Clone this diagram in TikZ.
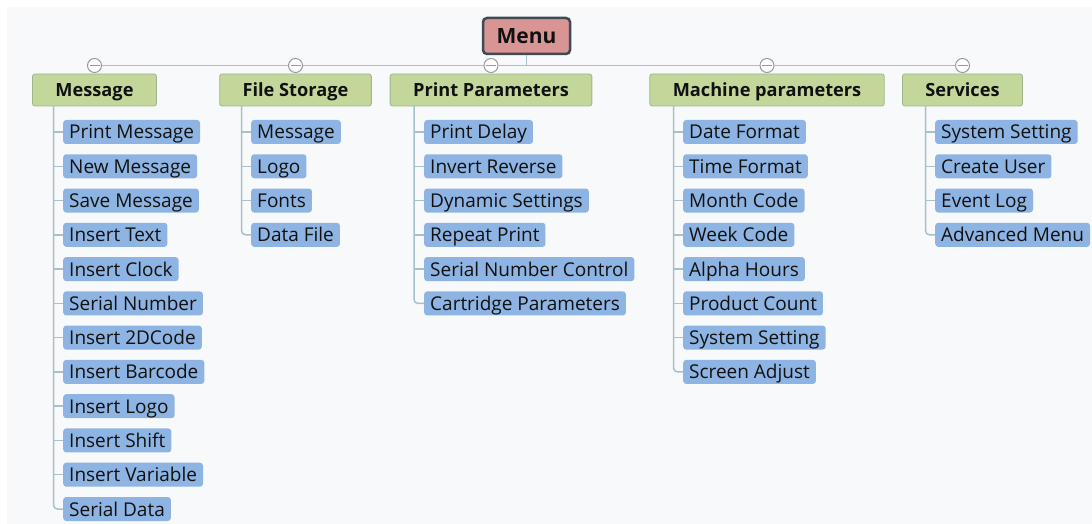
\documentclass[tikz,border=0pt]{standalone}
\usepackage{fontspec}
\setmainfont{Open Sans}
\usepackage{tikz}

\definecolor{bgcol}{HTML}{F8F9FA}
\definecolor{menufill}{HTML}{D99594}
\definecolor{menuedge}{HTML}{3F4A54}
\definecolor{topicfill}{HTML}{C4D79B}
\definecolor{topicedge}{HTML}{9FB58A}
\definecolor{itemfill}{HTML}{8DB4E2}
\definecolor{linkcol}{HTML}{A6C0CC}
\definecolor{foldedge}{HTML}{9A9A9A}
\definecolor{textcol}{HTML}{111111}

\tikzset{
    menubox/.style={draw=menuedge, line width=2.5pt, fill=menufill,
        rounded corners=4pt, minimum width=87pt, minimum height=36pt,
        inner sep=0pt, text height=15pt, text depth=0pt, text=textcol,
        font=\bfseries\fontsize{21pt}{21pt}\selectfont},
    topic/.style={draw=topicedge, line width=0.8pt, fill=topicfill,
        rounded corners=2.5pt, minimum height=32pt, inner xsep=23pt,
        inner ysep=0pt, text height=13.5pt, text depth=0pt, text=textcol,
        font=\bfseries\fontsize{18.2pt}{18.2pt}\selectfont},
    leaf/.style={fill=itemfill, rounded corners=3pt, minimum height=24pt,
        inner xsep=6pt, inner ysep=0pt, text height=14pt, text depth=0pt,
        anchor=west, text=textcol, font=\fontsize{19pt}{19pt}\selectfont},
    fold/.style={circle, draw=foldedge, line width=1pt, fill=white,
        minimum size=14pt, inner sep=0pt,
        path picture={\draw[foldedge, line width=1pt]
            ([xshift=-5pt]path picture bounding box.center) --
            ([xshift=5pt]path picture bounding box.center);}},
    link/.style={draw=linkcol, line width=1.5pt}
}

\begin{document}
\begin{tikzpicture}[x=1pt, y=-1pt]
    \useasboundingbox (0,0) rectangle (1092,524);
    \fill[bgcol] (7,7) rectangle (1092,524);

    % root
    \node[menubox] (menu) at (526.5,36) {Menu};

    % main topics
    \node[topic] (msg) at (94.5,90) {Message};
    \node[topic] (file) at (295.5,90) {File Storage};
    \node[topic] (prn) at (491,90) {Print Parameters};
    \node[topic] (mach) at (767,90) {Machine parameters};
    \node[topic] (srv) at (962.5,90) {Services};

    % bus with fold markers
    \node[fold] (fmsg) at (94.5,65.5) {};
    \node[fold] (ffile) at (295.5,65.5) {};
    \node[fold] (fprn) at (491,65.5) {};
    \node[fold] (fmach) at (767,65.5) {};
    \node[fold] (fsrv) at (962.5,65.5) {};
    \draw[link] (fmsg.east) -- (ffile.west);
    \draw[link] (ffile.east) -- (fprn.west);
    \draw[link] (fprn.east) -- (fmach.west);
    \draw[link] (fmach.east) -- (fsrv.west);
    \draw[link] (menu.south) -- (menu.south |- fprn.center);

    % Message
    \node[leaf] (m1) at (63,132) {Print Message};
    \node[leaf] (m2) at (63,166.3) {New Message};
    \node[leaf] (m3) at (63,200.5) {Save Message};
    \node[leaf] (m4) at (63,234.8) {Insert Text};
    \node[leaf] (m5) at (63,269.1) {Insert Clock};
    \node[leaf] (m6) at (63,303.4) {Serial Number};
    \node[leaf] (m7) at (63,337.6) {Insert 2DCode};
    \node[leaf] (m8) at (63,371.9) {Insert Barcode};
    \node[leaf] (m9) at (63,406.2) {Insert Logo};
    \node[leaf] (m10) at (63,440.4) {Insert Shift};
    \node[leaf] (m11) at (63,474.7) {Insert Variable};
    \node[leaf] (m12) at (63,509) {Serial Data};

    % File Storage
    \node[leaf] (f1) at (251,132) {Message};
    \node[leaf] (f2) at (251,166.3) {Logo};
    \node[leaf] (f3) at (251,200.5) {Fonts};
    \node[leaf] (f4) at (251,234.8) {Data File};

    % Print Parameters
    \node[leaf] (p1) at (424,132) {Print Delay};
    \node[leaf] (p2) at (424,166.3) {Invert Reverse};
    \node[leaf] (p3) at (424,200.5) {Dynamic Settings};
    \node[leaf] (p4) at (424,234.8) {Repeat Print};
    \node[leaf] (p5) at (424,269.1) {Serial Number Control};
    \node[leaf] (p6) at (424,303.4) {Cartridge Parameters};

    % Machine parameters
    \node[leaf] (mc1) at (683,132) {Date Format};
    \node[leaf] (mc2) at (683,166.3) {Time Format};
    \node[leaf] (mc3) at (683,200.5) {Month Code};
    \node[leaf] (mc4) at (683,234.8) {Week Code};
    \node[leaf] (mc5) at (683,269.1) {Alpha Hours};
    \node[leaf] (mc6) at (683,303.4) {Product Count};
    \node[leaf] (mc7) at (683,337.6) {System Setting};
    \node[leaf] (mc8) at (683,371.9) {Screen Adjust};

    % Services
    \node[leaf] (s1) at (935,132) {System Setting};
    \node[leaf] (s2) at (935,166.3) {Create User};
    \node[leaf] (s3) at (935,200.5) {Event Log};
    \node[leaf] (s4) at (935,234.8) {Advanced Menu};

    % trunks
    \coordinate (msgtrunk) at (53.5,106);
    \coordinate (filetrunk) at (241.5,106);
    \coordinate (prntrunk) at (414,106);
    \coordinate (machtrunk) at (673.5,106);
    \coordinate (srvtrunk) at (925.5,106);
    \draw[link, rounded corners=4pt] (msgtrunk) |- (m12.west);
    \draw[link, rounded corners=4pt] (filetrunk) |- (f4.west);
    \draw[link, rounded corners=4pt] (prntrunk) |- (p6.west);
    \draw[link, rounded corners=4pt] (machtrunk) |- (mc8.west);
    \draw[link, rounded corners=4pt] (srvtrunk) |- (s4.west);

    % stubs
    \draw[link] (m1.west) -- (m1.west -| msgtrunk);
    \draw[link] (m2.west) -- (m2.west -| msgtrunk);
    \draw[link] (m3.west) -- (m3.west -| msgtrunk);
    \draw[link] (m4.west) -- (m4.west -| msgtrunk);
    \draw[link] (m5.west) -- (m5.west -| msgtrunk);
    \draw[link] (m6.west) -- (m6.west -| msgtrunk);
    \draw[link] (m7.west) -- (m7.west -| msgtrunk);
    \draw[link] (m8.west) -- (m8.west -| msgtrunk);
    \draw[link] (m9.west) -- (m9.west -| msgtrunk);
    \draw[link] (m10.west) -- (m10.west -| msgtrunk);
    \draw[link] (m11.west) -- (m11.west -| msgtrunk);
    \draw[link] (f1.west) -- (f1.west -| filetrunk);
    \draw[link] (f2.west) -- (f2.west -| filetrunk);
    \draw[link] (f3.west) -- (f3.west -| filetrunk);
    \draw[link] (p1.west) -- (p1.west -| prntrunk);
    \draw[link] (p2.west) -- (p2.west -| prntrunk);
    \draw[link] (p3.west) -- (p3.west -| prntrunk);
    \draw[link] (p4.west) -- (p4.west -| prntrunk);
    \draw[link] (p5.west) -- (p5.west -| prntrunk);
    \draw[link] (mc1.west) -- (mc1.west -| machtrunk);
    \draw[link] (mc2.west) -- (mc2.west -| machtrunk);
    \draw[link] (mc3.west) -- (mc3.west -| machtrunk);
    \draw[link] (mc4.west) -- (mc4.west -| machtrunk);
    \draw[link] (mc5.west) -- (mc5.west -| machtrunk);
    \draw[link] (mc6.west) -- (mc6.west -| machtrunk);
    \draw[link] (mc7.west) -- (mc7.west -| machtrunk);
    \draw[link] (s1.west) -- (s1.west -| srvtrunk);
    \draw[link] (s2.west) -- (s2.west -| srvtrunk);
    \draw[link] (s3.west) -- (s3.west -| srvtrunk);
\end{tikzpicture}
\end{document}
